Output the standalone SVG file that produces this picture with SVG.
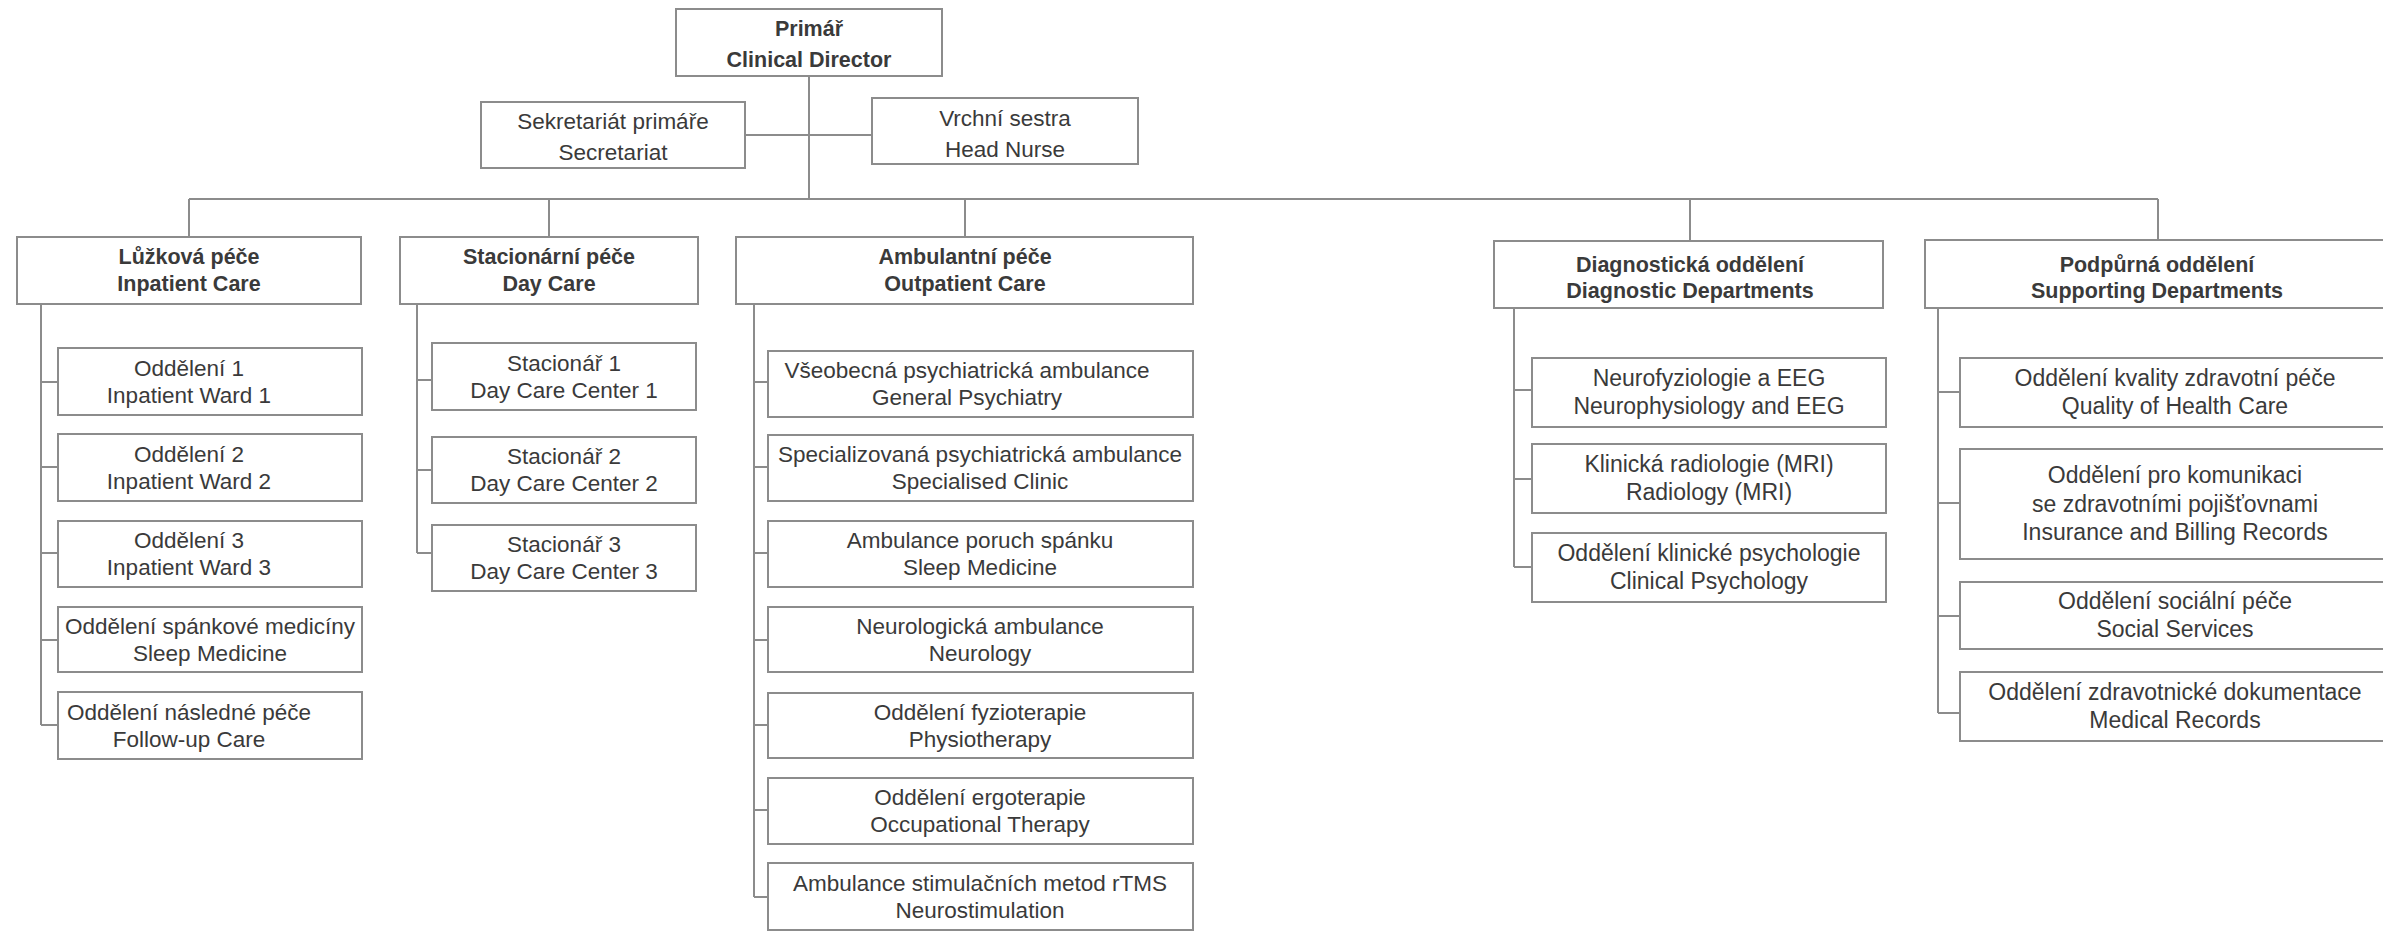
<svg xmlns="http://www.w3.org/2000/svg" width="2383" height="931" viewBox="0 0 2383 931">
<style>
.box{fill:#fff;stroke:#8c8c8c;stroke-width:2}
.ln{fill:none;stroke:#8c8c8c;stroke-width:2}
text{font-family:"Liberation Sans",Arial,sans-serif;fill:#3a3a3a;text-anchor:middle}
.t{font-size:22.5px}
.r{font-size:23px}
.b{font-size:21.5px;font-weight:bold}
</style>
<rect width="2383" height="931" fill="#fff"/>
<g id="connectors">
<path class="ln" d="M809 76V199M745 135H872M189 199H2158M189 199V237M549 199V237M965 199V237M1690 199V241M2158 199V240"/>
<path class="ln" d="M41 304V725M41 382H58M41 467H58M41 553H58M41 640H58M41 725H58"/>
<path class="ln" d="M417 304V553M417 380H432M417 470H432M417 553H432"/>
<path class="ln" d="M754 304V897M754 382H768M754 467H768M754 553H768M754 640H768M754 725H768M754 810H768M754 897H768"/>
<path class="ln" d="M1514 308V567M1514 390H1532M1514 479H1532M1514 567H1532"/>
<path class="ln" d="M1938 308V713M1938 392H1960M1938 503H1960M1938 616H1960M1938 713H1960"/>
</g>
<g id="primar"><rect class="box" x="676" y="9" width="266" height="67"/><text class="b" x="809" y="36">Primář</text><text class="b" x="809" y="67">Clinical Director</text></g>
<g id="sekretariat"><rect class="box" x="481" y="102" width="264" height="66"/><text class="t" x="613" y="129">Sekretariát primáře</text><text class="t" x="613" y="160">Secretariat</text></g>
<g id="vrchni"><rect class="box" x="872" y="98" width="266" height="66"/><text class="t" x="1005" y="126">Vrchní sestra</text><text class="t" x="1005" y="157">Head Nurse</text></g>

<g id="luzkova"><rect class="box" x="17" y="237" width="344" height="67"/><text class="b" x="189" y="264">Lůžková péče</text><text class="b" x="189" y="291">Inpatient Care</text></g>
<g id="stacionarni"><rect class="box" x="400" y="237" width="298" height="67"/><text class="b" x="549" y="264">Stacionární péče</text><text class="b" x="549" y="291">Day Care</text></g>
<g id="ambulantni"><rect class="box" x="736" y="237" width="457" height="67"/><text class="b" x="965" y="264">Ambulantní péče</text><text class="b" x="965" y="291">Outpatient Care</text></g>
<g id="diagnosticka"><rect class="box" x="1494" y="241" width="389" height="67"/><text class="b" x="1690" y="272">Diagnostická oddělení</text><text class="b" x="1690" y="298">Diagnostic Departments</text></g>
<g id="podpurna"><rect class="box" x="1925" y="240" width="465" height="68"/><text class="b" x="2157" y="272">Podpůrná oddělení</text><text class="b" x="2157" y="298">Supporting Departments</text></g>

<g id="odd1"><rect class="box" x="58" y="348" width="304" height="67"/><text class="t" x="189" y="375.5">Oddělení 1</text><text class="t" x="189" y="402.5">Inpatient Ward 1</text></g>
<g id="odd2"><rect class="box" x="58" y="434" width="304" height="67"/><text class="t" x="189" y="461.5">Oddělení 2</text><text class="t" x="189" y="488.5">Inpatient Ward 2</text></g>
<g id="odd3"><rect class="box" x="58" y="521" width="304" height="66"/><text class="t" x="189" y="548">Oddělení 3</text><text class="t" x="189" y="575">Inpatient Ward 3</text></g>
<g id="odd-spanek"><rect class="box" x="58" y="607" width="304" height="65"/><text class="t" x="210" y="633.5">Oddělení spánkové medicíny</text><text class="t" x="210" y="660.5">Sleep Medicine</text></g>
<g id="odd-nasledna"><rect class="box" x="58" y="692" width="304" height="67"/><text class="t" x="189" y="719.5">Oddělení následné péče</text><text class="t" x="189" y="746.5">Follow-up Care</text></g>

<g id="stac1"><rect class="box" x="432" y="343" width="264" height="67"/><text class="t" x="564" y="370.5">Stacionář 1</text><text class="t" x="564" y="397.5">Day Care Center 1</text></g>
<g id="stac2"><rect class="box" x="432" y="437" width="264" height="66"/><text class="t" x="564" y="464">Stacionář 2</text><text class="t" x="564" y="491">Day Care Center 2</text></g>
<g id="stac3"><rect class="box" x="432" y="525" width="264" height="66"/><text class="t" x="564" y="552">Stacionář 3</text><text class="t" x="564" y="579">Day Care Center 3</text></g>

<g id="amb1"><rect class="box" x="768" y="351" width="425" height="66"/><text class="t" x="967" y="378">Všeobecná psychiatrická ambulance</text><text class="t" x="967" y="405">General Psychiatry</text></g>
<g id="amb2"><rect class="box" x="768" y="435" width="425" height="66"/><text class="t" x="980" y="462">Specializovaná psychiatrická ambulance</text><text class="t" x="980" y="489">Specialised Clinic</text></g>
<g id="amb3"><rect class="box" x="768" y="521" width="425" height="66"/><text class="t" x="980" y="548">Ambulance poruch spánku</text><text class="t" x="980" y="575">Sleep Medicine</text></g>
<g id="amb4"><rect class="box" x="768" y="607" width="425" height="65"/><text class="t" x="980" y="633.5">Neurologická ambulance</text><text class="t" x="980" y="660.5">Neurology</text></g>
<g id="amb5"><rect class="box" x="768" y="693" width="425" height="65"/><text class="t" x="980" y="719.5">Oddělení fyzioterapie</text><text class="t" x="980" y="746.5">Physiotherapy</text></g>
<g id="amb6"><rect class="box" x="768" y="778" width="425" height="66"/><text class="t" x="980" y="805">Oddělení ergoterapie</text><text class="t" x="980" y="832">Occupational Therapy</text></g>
<g id="amb7"><rect class="box" x="768" y="863" width="425" height="67"/><text class="t" x="980" y="890.5">Ambulance stimulačních metod rTMS</text><text class="t" x="980" y="917.5">Neurostimulation</text></g>

<g id="diag1"><rect class="box" x="1532" y="358" width="354" height="69"/><text class="r" x="1709" y="385.5">Neurofyziologie a EEG</text><text class="r" x="1709" y="413.5">Neurophysiology and EEG</text></g>
<g id="diag2"><rect class="box" x="1532" y="444" width="354" height="69"/><text class="r" x="1709" y="471.5">Klinická radiologie (MRI)</text><text class="r" x="1709" y="499.5">Radiology (MRI)</text></g>
<g id="diag3"><rect class="box" x="1532" y="533" width="354" height="69"/><text class="r" x="1709" y="560.5">Oddělení klinické psychologie</text><text class="r" x="1709" y="588.5">Clinical Psychology</text></g>

<g id="pod1"><rect class="box" x="1960" y="358" width="430" height="69"/><text class="r" x="2175" y="385.5">Oddělení kvality zdravotní péče</text><text class="r" x="2175" y="413.5">Quality of Health Care</text></g>
<g id="pod2"><rect class="box" x="1960" y="449" width="430" height="110"/><text class="r" x="2175" y="483">Oddělení pro komunikaci</text><text class="r" x="2175" y="511.5">se zdravotními pojišťovnami</text><text class="r" x="2175" y="540">Insurance and Billing Records</text></g>
<g id="pod3"><rect class="box" x="1960" y="582" width="430" height="67"/><text class="r" x="2175" y="608.5">Oddělení sociální péče</text><text class="r" x="2175" y="636.5">Social Services</text></g>
<g id="pod4"><rect class="box" x="1960" y="672" width="430" height="69"/><text class="r" x="2175" y="699.5">Oddělení zdravotnické dokumentace</text><text class="r" x="2175" y="727.5">Medical Records</text></g>
</svg>
